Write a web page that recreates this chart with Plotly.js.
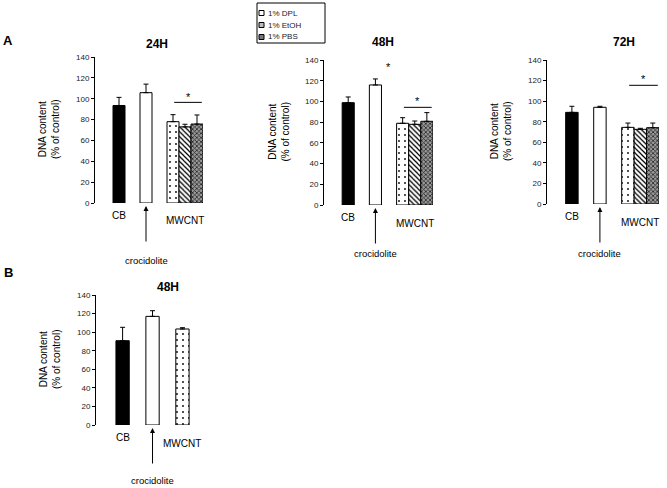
<!DOCTYPE html>
<html>
<head>
<meta charset="utf-8">
<script src="https://cdn.plot.ly/plotly-3.0.1.min.js"></script>
<style>html,body{margin:0;padding:0;background:#fff}#chart{width:667px;height:488px}</style>
</head>
<body>
<div id="chart"></div>
<script>
// ---------- data ----------
const groups = ['CB', 'crocidolite', 'MWCNT'];
const vehicles = ['1% DPL', '1% EtOH', '1% PBS'];
const panelTitles = ['24H', '48H', '72H', '48H'];
const panelLetters = ['A', 'B'];
const yTitle = 'DNA content<br>(% of control)';
const yTicks = [0, 20, 40, 60, 80, 100, 120, 140];

// order: CB, crocidolite, MWCNT/DPL, MWCNT/EtOH, MWCNT/PBS
const mean24 = [93.5, 105.8, 78.0, 73.0, 75.7];
const err24  = [7.8, 8.2, 6.7, 2.5, 8.7];
const mean48 = [98.8, 115.9, 78.9, 77.9, 80.8];
const err48  = [5.5, 5.8, 5.4, 3.2, 8.4];
const mean72 = [89.1, 94.0, 74.5, 72.6, 74.2];
const err72  = [5.9, 1.0, 4.2, 1.0, 4.5];
// panel B: CB, crocidolite, MWCNT (DPL)
const meanB48 = [90.8, 117.0, 103.4];
const errB48  = [14.4, 6.1, 1.4];

// significance marks (y values)
const sigLine = [96.5, 94.3, 115.4];
const sigStar = [102, 100.7, 121.5];
const crocStar48 = 133.6;

// ---------- layout helpers ----------
const W = 667, H = 488;
const px = v => v / W;
const py = v => 1 - v / H;
const slots = [0, 2.25, 4.5, 5.5, 6.5];
const panels = [
  {left: 95,  unit: 12.0,  top: 57,  bottom: 203, xmax: 7.0, mean: mean24, err: err24},
  {left: 324, unit: 12.1,  top: 60,  bottom: 205, xmax: 7.0, mean: mean48, err: err48},
  {left: 547, unit: 12.45, top: 60,  bottom: 204, xmax: 7.0, mean: mean72, err: err72},
  {left: 96,  unit: 13.3,  top: 295, bottom: 425, xmax: 5.3, mean: meanB48, err: errB48}
];
const styles = [
  {color: '#000', pattern: undefined},
  {color: '#fff', pattern: undefined},
  {color: '#fff', pattern: {shape: '.', fgcolor: '#000', bgcolor: '#fff', size: 6, solidity: 0.07}},
  {color: '#fff', pattern: {shape: '\\', fgcolor: '#000', bgcolor: '#fff', size: 3.5, solidity: 0.35}},
  {color: '#666', pattern: {shape: 'x', fgcolor: '#222', bgcolor: '#999', size: 3, solidity: 0.45}}
];
const FONT = 'Liberation Sans, Arial, sans-serif';

const traces = [];
const layout = {
  width: W, height: H,
  margin: {l: 0, r: 0, t: 0, b: 0},
  paper_bgcolor: '#fff', plot_bgcolor: 'rgba(0,0,0,0)',
  showlegend: false,
  barmode: 'overlay',
  font: {family: FONT, color: '#000'},
  annotations: [], shapes: []
};

panels.forEach((p, i) => {
  const n = i + 1;
  const xa = n === 1 ? 'x' : 'x' + n;
  const ya = n === 1 ? 'y' : 'y' + n;
  const xkey = n === 1 ? 'xaxis' : 'xaxis' + n;
  const ykey = n === 1 ? 'yaxis' : 'yaxis' + n;
  const xmin = -2;
  layout[xkey] = {
    domain: [px(p.left), px(p.left + (p.xmax - xmin) * p.unit)],
    range: [xmin, p.xmax], visible: false, anchor: ya, fixedrange: true
  };
  layout[ykey] = {
    domain: [py(p.bottom), py(p.top)],
    range: [0, 140], anchor: xa,
    tickvals: yTicks, ticks: 'outside', ticklen: 3, tickwidth: 1, tickcolor: '#000',
    showline: true, linecolor: '#000', linewidth: 1,
    showgrid: false, zeroline: false,
    tickfont: {size: 8, color: '#222', family: FONT}
  };
  p.mean.forEach((v, k) => {
    traces.push({
      type: 'bar', x: [slots[k]], y: [v], width: 1,
      xaxis: xa, yaxis: ya,
      name: k < 2 ? groups[k] : groups[2] + ' ' + vehicles[k - 2],
      marker: {color: styles[k].color, pattern: styles[k].pattern, line: {color: '#000', width: 1}},
      error_y: {type: 'data', symmetric: false, array: [p.err[k]], arrayminus: [0],
                color: '#000', thickness: 1, width: 2.5},
      hoverinfo: 'skip'
    });
  });
  // y-axis title
  layout.annotations.push({
    xref: 'paper', yref: 'paper', x: px(p.left - 46), y: py((p.top + p.bottom) / 2),
    text: yTitle, textangle: -90, showarrow: false, font: {size: 10, family: FONT},
    xanchor: 'center', yanchor: 'middle'
  });
  // labels
  layout.annotations.push({xref: xa, yref: 'paper', x: slots[0], y: py(p.bottom + 12),
    text: groups[0], showarrow: false, font: {size: 10, family: FONT}, xanchor: 'center', yanchor: 'middle'});
  const mwX = p.mean.length > 3 ? slots[3] : slots[2];
  layout.annotations.push({xref: xa, yref: 'paper', x: mwX, y: py(p.bottom + 18),
    text: groups[2], showarrow: false, font: {size: 10, family: FONT}, xanchor: 'center', yanchor: 'middle'});
  // arrow + crocidolite
  layout.annotations.push({xref: xa, yref: ya, x: slots[1], y: 0, text: '', showarrow: true,
    arrowhead: 2, arrowsize: 1, arrowwidth: 1, arrowcolor: '#000', ax: 0, ay: 40, standoff: 3});
  layout.annotations.push({xref: xa, yref: 'paper', x: slots[1], y: py(p.bottom + (i === 0 ? 57 : (i === 3 ? 55 : 49))),
    text: groups[1], showarrow: false, font: {size: 9.5, family: FONT}, xanchor: 'center', yanchor: 'middle'});
  // title
  const titleY = [44, 42, 42, 287][i];
  const titleX = [157, 383, 624, 168][i];
  layout.annotations.push({xref: 'paper', yref: 'paper', x: px(titleX), y: py(titleY),
    text: '<b>' + panelTitles[i] + '</b>', showarrow: false, font: {size: 12, family: FONT},
    xanchor: 'center', yanchor: 'middle'});
  // significance
  if (i < 3) {
    layout.shapes.push({type: 'line', xref: xa, yref: ya, x0: 4.6, x1: 6.9, y0: sigLine[i], y1: sigLine[i],
      line: {color: '#000', width: 1}});
    layout.annotations.push({xref: xa, yref: ya, x: 5.75, y: sigStar[i], text: '*', showarrow: false,
      font: {size: 11, family: FONT}, xanchor: 'center', yanchor: 'middle'});
  }
  if (i === 1) {
    layout.annotations.push({xref: xa, yref: ya, x: slots[1] + 1.07, y: crocStar48, text: '*', showarrow: false,
      font: {size: 11, family: FONT}, xanchor: 'center', yanchor: 'middle'});
  }
});

// panel letters
layout.annotations.push({xref: 'paper', yref: 'paper', x: px(8), y: py(41), text: '<b>' + panelLetters[0] + '</b>',
  showarrow: false, font: {size: 13, family: FONT}, xanchor: 'center', yanchor: 'middle'});
layout.annotations.push({xref: 'paper', yref: 'paper', x: px(8), y: py(272), text: '<b>' + panelLetters[1] + '</b>',
  showarrow: false, font: {size: 13, family: FONT}, xanchor: 'center', yanchor: 'middle'});

// legend box (manual)
const legL = 257, legR = 325, legT = 3, legB = 43;
layout.shapes.push({type: 'rect', xref: 'paper', yref: 'paper', x0: px(legL), x1: px(legR), y0: py(legB), y1: py(legT),
  line: {color: '#000', width: 1}, fillcolor: 'rgba(0,0,0,0)'});
const legendFill = ['#fff', '#bbb', '#777'];
vehicles.forEach((v, k) => {
  const cy = 13 + k * 12;
  layout.shapes.push({type: 'rect', xref: 'paper', yref: 'paper', x0: px(259), x1: px(264), y0: py(cy + 2.5), y1: py(cy - 2.5),
    line: {color: '#000', width: 1}, fillcolor: legendFill[k]});
  layout.annotations.push({xref: 'paper', yref: 'paper', x: px(266), y: py(cy), text: v, showarrow: false,
    font: {size: 8, family: FONT, color: '#222'}, xanchor: 'left', yanchor: 'middle'});
});

Plotly.newPlot('chart', traces, layout, {displayModeBar: false, staticPlot: true});
</script>
</body>
</html>
